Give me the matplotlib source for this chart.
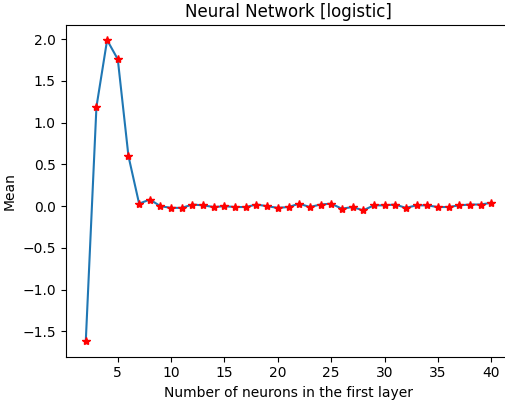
import matplotlib
matplotlib.use("Agg")
import matplotlib.pyplot as plt

neurons = list(range(2, 41))
means = [-1.62, 1.19, 1.99, 1.76, 0.60, 0.03, 0.08, 0.00, -0.02, -0.02,
         0.02, 0.01, -0.01, 0.00, -0.01, -0.01, 0.02, 0.00, -0.02, -0.01,
         0.03, -0.01, 0.02, 0.03, -0.03, -0.01, -0.05, 0.01, 0.01, 0.02,
         -0.02, 0.01, 0.01, -0.01, -0.01, 0.01, 0.02, 0.02, 0.04]

fig = plt.figure(figsize=(5.06, 4.01), dpi=100)
ax = fig.add_axes([65.5/506, 1 - 356.5/401, 446/506, (356.5-25)/401])
ax.plot(neurons, means)
ax.plot(neurons, means, "r*")
ax.set_title("Neural Network [logistic]")
ax.set_xlabel("Number of neurons in the first layer")
ax.set_ylabel("Mean")
fig.savefig("out.png", dpi=100)
